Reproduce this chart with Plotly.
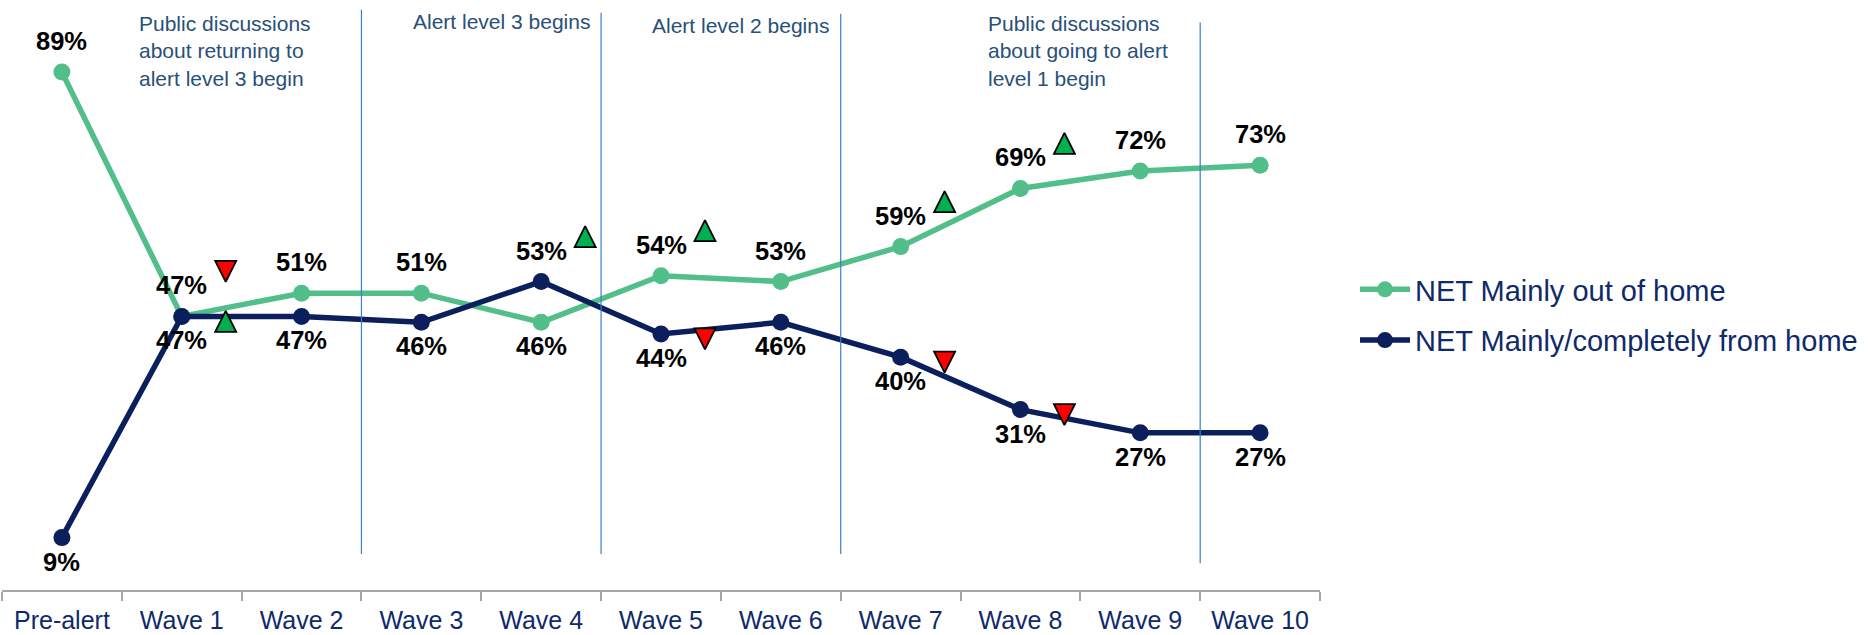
import plotly.graph_objects as go

# ---------------- data ----------------
categories = ["Pre-alert", "Wave 1", "Wave 2", "Wave 3", "Wave 4", "Wave 5",
              "Wave 6", "Wave 7", "Wave 8", "Wave 9", "Wave 10"]
out_of_home = [89, 47, 51, 51, 46, 54, 53, 59, 69, 72, 73]
from_home = [9, 47, 47, 46, 53, 44, 46, 40, 31, 27, 27]
# significant change vs previous wave
out_sig = [None, "down", None, None, None, "up", None, "up", "up", None, None]
home_sig = [None, "up", None, None, "up", "down", None, "down", "down", None, None]
series_names = ["NET Mainly out of home", "NET Mainly/completely from home"]
event_boundaries = [2.5, 4.5, 6.5, 9.5]
event_texts = [
    "Public discussions<br>about returning to<br>alert level 3 begin",
    "Alert level 3 begins",
    "Alert level 2 begins",
    "Public discussions<br>about going to alert<br>level 1 begin",
]

# ---------------- style ----------------
W, H = 1870, 635
M_L, M_R, M_T, M_B = 2, 550, 8, 45
PX = (H - M_T - M_B) / 100.0  # pixels per percentage point
FONT = "Liberation Sans, Arial, sans-serif"
GREEN = "#52bf8a"
NAVY = "#0b1f5c"
TXT_NAVY = "#0f2a6b"
EVENT_TXT = "#27507a"
EVENT_LINE = "#3a7fc2"
UP_FILL = "#00b050"
DOWN_FILL = "#ff0000"
LABEL_ABOVE = 31
LABEL_BELOW = -24
TRI_SIZE = 21
TRI_DX = 0.367
TRI_ABOVE = -45   # triangle centre offset (px, screen) when label above point
TRI_BELOW = 5     # when label below point
event_text_style = [
    dict(x=0.63, y=92.6, xanchor="left"),
    dict(x=4.42, y=97.6, xanchor="right"),
    dict(x=6.42, y=97.0, xanchor="right"),
    dict(x=7.71, y=92.6, xanchor="left"),
]
event_line_extent = [(6.2, 99.7), (6.2, 99.2), (6.2, 99.0), (4.6, 97.5)]

fig = go.Figure()
colors = [GREEN, NAVY]
for name, vals, col, grp in zip(series_names, [out_of_home, from_home], colors, ["g1", "g2"]):
    fig.add_trace(go.Scatter(
        x=categories, y=vals, name=name, mode="lines+markers",
        line=dict(color=col, width=5.5), marker=dict(size=17, color=col),
        legendgroup=grp, hoverinfo="skip"))

# data labels and significance triangles
annotations = []
tri = {"up": dict(x=[], y=[]), "down": dict(x=[], y=[])}
for i, cat in enumerate(categories):
    g, b = out_of_home[i], from_home[i]
    for val, sig, above in [(g, out_sig[i], g >= b), (b, home_sig[i], g < b)]:
        annotations.append(dict(
            x=cat, y=val, xref="x", yref="y", text=f"{val}%", showarrow=False,
            yshift=LABEL_ABOVE if above else LABEL_BELOW, yanchor="middle",
            font=dict(family=FONT, size=25.5, color="#000000", weight="bold")))
        if sig:
            centre = TRI_ABOVE if above else TRI_BELOW
            tip = centre - TRI_SIZE / 2 if sig == "up" else centre + TRI_SIZE / 2
            tri[sig]["x"].append(i + TRI_DX)
            tri[sig]["y"].append(val - tip / PX)

for sig, fill in [("up", UP_FILL), ("down", DOWN_FILL)]:
    fig.add_trace(go.Scatter(
        x=tri[sig]["x"], y=tri[sig]["y"], xaxis="x2", mode="markers",
        marker=dict(symbol=f"arrow-{sig}", size=TRI_SIZE, color=fill,
                    line=dict(color="#000000", width=1.8)),
        showlegend=False, hoverinfo="skip"))

shapes = []
for xb, (y0, y1) in zip(event_boundaries, event_line_extent):
    shapes.append(dict(type="line", xref="x2", yref="y", x0=xb, x1=xb, y0=y0, y1=y1,
                       line=dict(color=EVENT_LINE, width=1.2)))
for txt, st in zip(event_texts, event_text_style):
    annotations.append(dict(
        text=txt, xref="x2", yref="y", x=st["x"], y=st["y"], xanchor=st["xanchor"],
        yanchor="middle", align="left", showarrow=False,
        font=dict(family=FONT, size=21, color=EVENT_TXT)))

fig.update_layout(
    width=W, height=H, margin=dict(l=M_L, r=M_R, t=M_T, b=M_B, autoexpand=False),
    plot_bgcolor="white", paper_bgcolor="white",
    font=dict(family=FONT),
    xaxis=dict(type="category", categoryorder="array", categoryarray=categories,
               range=[-0.5, 10.5], tickson="boundaries", ticks="outside", ticklen=9,
               tickwidth=1.5, tickcolor="#a6a6a6", showline=True, linecolor="#a6a6a6",
               linewidth=1.5, showgrid=False, zeroline=False, ticklabelstandoff=7,
               tickfont=dict(family=FONT, size=25, color=TXT_NAVY)),
    xaxis2=dict(overlaying="x", range=[-0.5, 10.5], visible=False),
    yaxis=dict(range=[0, 100], visible=False),
    showlegend=True,
    legend=dict(xref="container", yref="container", x=1355 / W, y=1 - 315 / H,
                xanchor="left", yanchor="middle", itemwidth=50, tracegroupgap=10,
                font=dict(family=FONT, size=29, color=TXT_NAVY),
                bgcolor="rgba(0,0,0,0)"),
    shapes=shapes, annotations=annotations,
)

fig.write_html("out.html", config={"displayModeBar": False},
               post_script="document.body.style.margin='0';")
